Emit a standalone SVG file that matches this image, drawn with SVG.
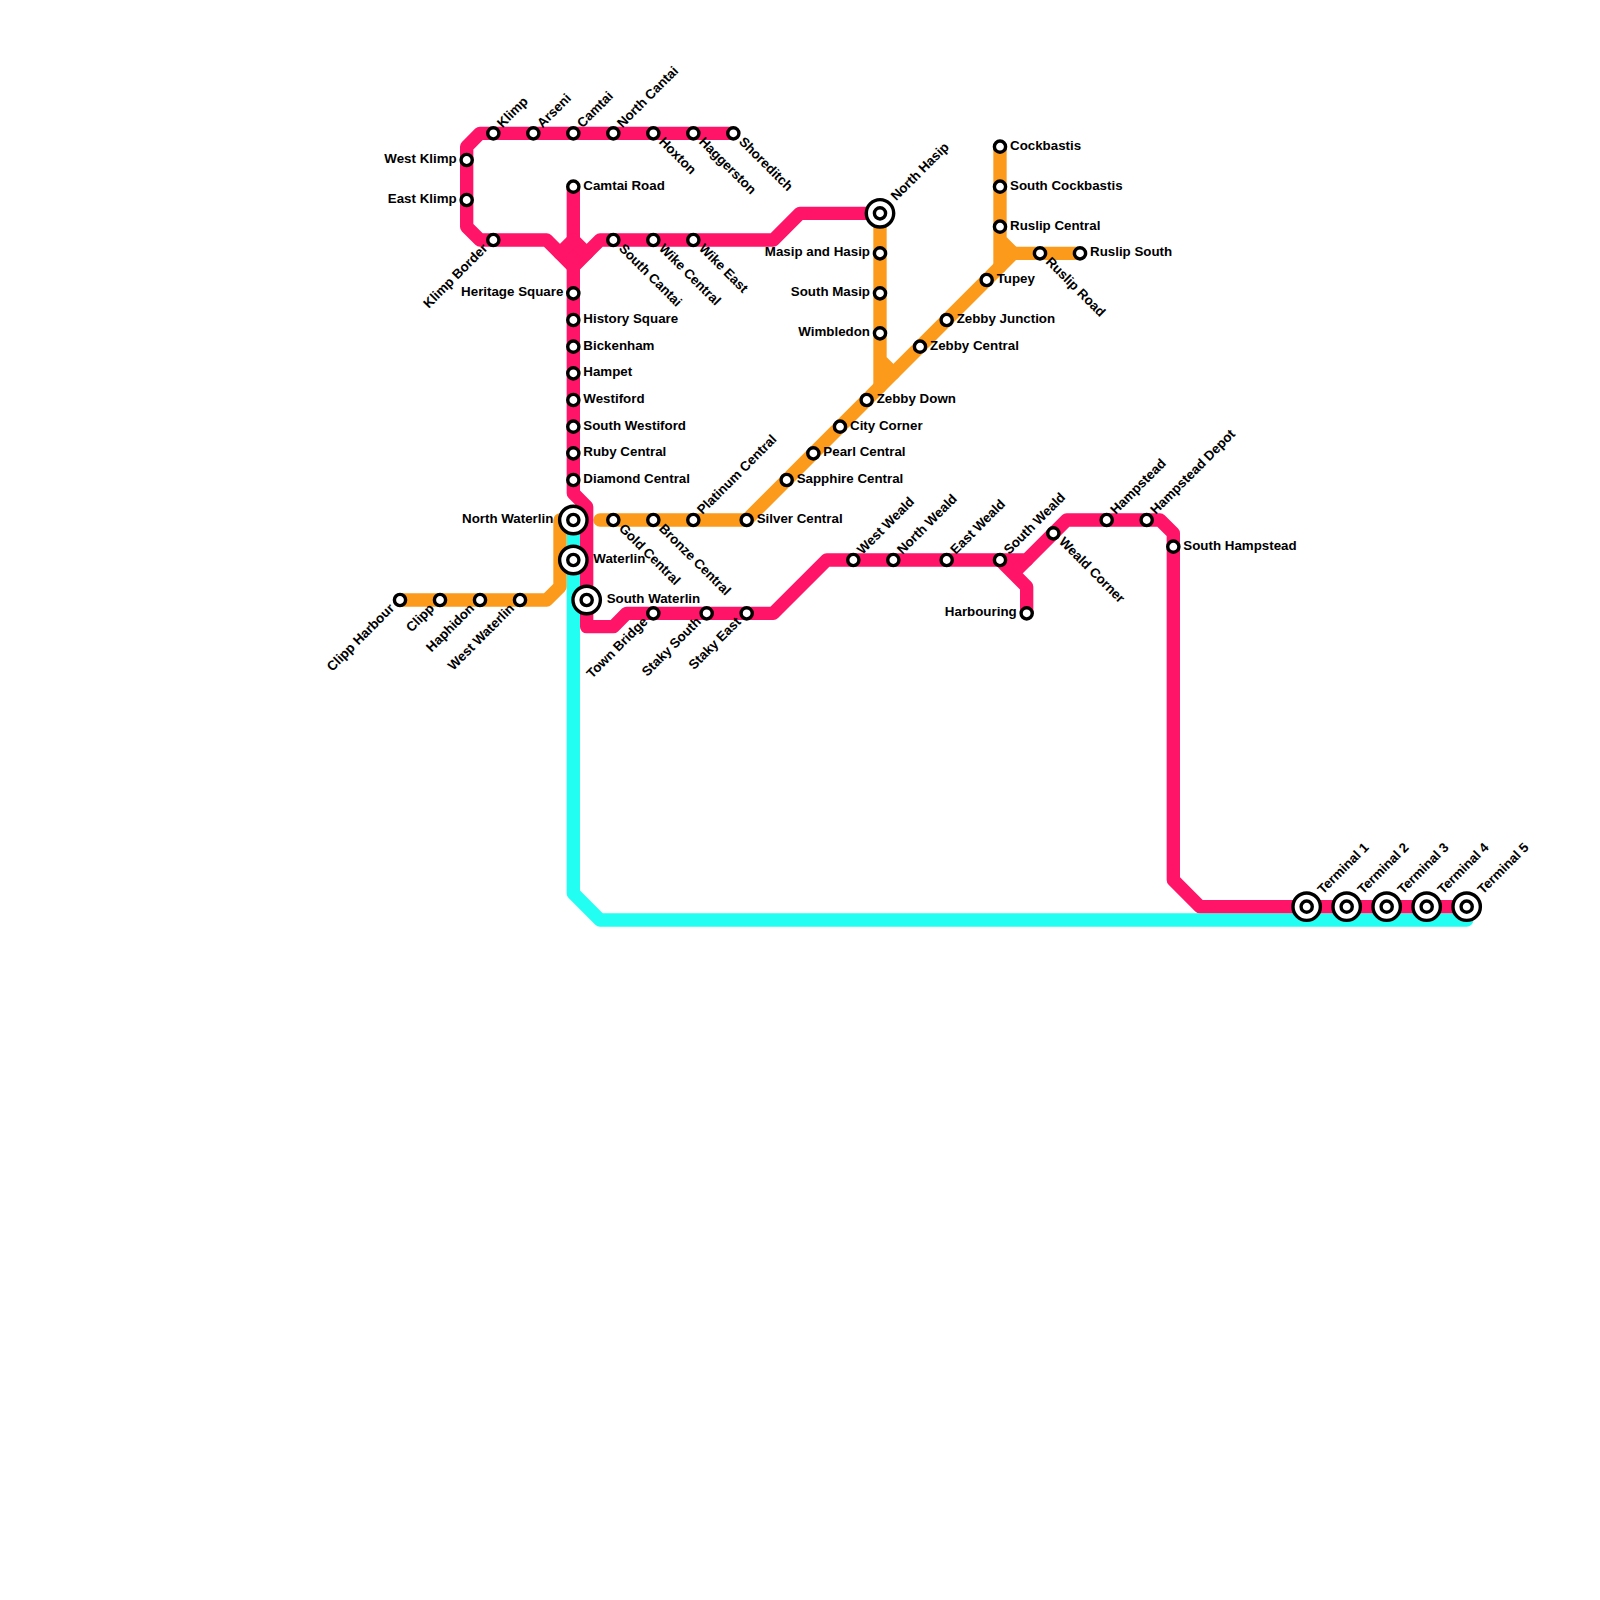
<svg xmlns="http://www.w3.org/2000/svg" width="1600" height="1600" viewBox="0 0 1600 1600">
<style>
.ln{fill:none;stroke-width:1;stroke-linecap:round;stroke-linejoin:round}
.pk{stroke:#ff1468}.or{stroke:#fc9a1b}.cy{stroke:#22fff2}
.st{fill:#fff;stroke:#000;stroke-width:3.4}
text{font-family:"Liberation Sans",Arial,sans-serif;font-size:13.33px;font-weight:bold;fill:#000}
.e{text-anchor:end}
</style>
<defs>
<g id="s"><circle class="st" r="5.6"/></g>
<g id="i"><circle class="st" r="13.7"/><circle class="st" r="5.6"/></g>
</defs>
<rect width="1600" height="1600" fill="#fff"/>
<g id="connectors" transform="scale(13.33333)">
<path class="ln cy" d="M43 39V67L45 69H110"/>
<path class="ln or" d="M30 45H41L42 44V39H43"/>
<path class="ln or" d="M45 39H56L76 19H81"/>
<path class="ln or" d="M66 16V29M66 27L67 28"/>
<path class="ln or" d="M75 11V20M75 18L76 19"/>
<path class="ln pk" d="M55 10H36L35 11V17L36 18H41L43 20L45 18H58L60 16H66"/>
<path class="ln pk" d="M43 14V37L44 38V47H46L47 46H58L62 42H77L80 39H87L88 40V66L90 68H110"/>
<path class="ln pk" d="M75 42L77 44V46M77 42L76 43M43 18L42 19M43 18L44 19"/>
</g>
<g id="stations">
<g id="west-klimp" transform="translate(466.67 160)"><use href="#s"/><text class="e" x="-10" y="3">West Klimp</text></g>
<g id="east-klimp" transform="translate(466.67 200)"><use href="#s"/><text class="e" x="-10" y="3">East Klimp</text></g>
<g id="klimp" transform="translate(493.33 133.33)"><use href="#s"/><text transform="rotate(-45) translate(10 3)">Klimp</text></g>
<g id="arseni" transform="translate(533.33 133.33)"><use href="#s"/><text transform="rotate(-45) translate(10 3)">Arseni</text></g>
<g id="camtai" transform="translate(573.33 133.33)"><use href="#s"/><text transform="rotate(-45) translate(10 3)">Camtai</text></g>
<g id="north-cantai" transform="translate(613.33 133.33)"><use href="#s"/><text transform="rotate(-45) translate(10 3)">North Cantai</text></g>
<g id="hoxton" transform="translate(653.33 133.33)"><use href="#s"/><text transform="rotate(45) translate(10 3)">Hoxton</text></g>
<g id="haggerston" transform="translate(693.33 133.33)"><use href="#s"/><text transform="rotate(45) translate(10 3)">Haggerston</text></g>
<g id="shoreditch" transform="translate(733.33 133.33)"><use href="#s"/><text transform="rotate(45) translate(10 3)">Shoreditch</text></g>
<g id="klimp-border" transform="translate(493.33 240)"><use href="#s"/><text class="e" transform="rotate(-45) translate(-10 3)">Klimp Border</text></g>
<g id="south-cantai" transform="translate(613.33 240)"><use href="#s"/><text transform="rotate(45) translate(10 3)">South Cantai</text></g>
<g id="wike-central" transform="translate(653.33 240)"><use href="#s"/><text transform="rotate(45) translate(10 3)">Wike Central</text></g>
<g id="wike-east" transform="translate(693.33 240)"><use href="#s"/><text transform="rotate(45) translate(10 3)">Wike East</text></g>
<g id="camtai-road" transform="translate(573.33 186.67)"><use href="#s"/><text x="10" y="3">Camtai Road</text></g>
<g id="heritage-square" transform="translate(573.33 293.33)"><use href="#s"/><text class="e" x="-10" y="3">Heritage Square</text></g>
<g id="history-square" transform="translate(573.33 320)"><use href="#s"/><text x="10" y="3">History Square</text></g>
<g id="bickenham" transform="translate(573.33 346.67)"><use href="#s"/><text x="10" y="3">Bickenham</text></g>
<g id="hampet" transform="translate(573.33 373.33)"><use href="#s"/><text x="10" y="3">Hampet</text></g>
<g id="westiford" transform="translate(573.33 400)"><use href="#s"/><text x="10" y="3">Westiford</text></g>
<g id="south-westiford" transform="translate(573.33 426.67)"><use href="#s"/><text x="10" y="3">South Westiford</text></g>
<g id="ruby-central" transform="translate(573.33 453.33)"><use href="#s"/><text x="10" y="3">Ruby Central</text></g>
<g id="diamond-central" transform="translate(573.33 480)"><use href="#s"/><text x="10" y="3">Diamond Central</text></g>
<g id="north-waterlin" transform="translate(573.33 520)"><use href="#i"/><text class="e" x="-20" y="3">North Waterlin</text></g>
<g id="waterlin" transform="translate(573.33 560)"><use href="#i"/><text x="20" y="3">Waterlin</text></g>
<g id="south-waterlin" transform="translate(586.67 600)"><use href="#i"/><text x="20" y="3">South Waterlin</text></g>
<g id="clipp-harbour" transform="translate(400 600)"><use href="#s"/><text class="e" transform="rotate(-45) translate(-10 3)">Clipp Harbour</text></g>
<g id="clipp" transform="translate(440 600)"><use href="#s"/><text class="e" transform="rotate(-45) translate(-10 3)">Clipp</text></g>
<g id="haphidon" transform="translate(480 600)"><use href="#s"/><text class="e" transform="rotate(-45) translate(-10 3)">Haphidon</text></g>
<g id="west-waterlin" transform="translate(520 600)"><use href="#s"/><text class="e" transform="rotate(-45) translate(-10 3)">West Waterlin</text></g>
<g id="gold-central" transform="translate(613.33 520)"><use href="#s"/><text transform="rotate(45) translate(10 3)">Gold Central</text></g>
<g id="bronze-central" transform="translate(653.33 520)"><use href="#s"/><text transform="rotate(45) translate(10 3)">Bronze Central</text></g>
<g id="platinum-central" transform="translate(693.33 520)"><use href="#s"/><text transform="rotate(-45) translate(10 3)">Platinum Central</text></g>
<g id="silver-central" transform="translate(746.67 520)"><use href="#s"/><text x="10" y="3">Silver Central</text></g>
<g id="town-bridge" transform="translate(653.33 613.33)"><use href="#s"/><text class="e" transform="rotate(-45) translate(-10 3)">Town Bridge</text></g>
<g id="staky-south" transform="translate(706.67 613.33)"><use href="#s"/><text class="e" transform="rotate(-45) translate(-10 3)">Staky South</text></g>
<g id="staky-east" transform="translate(746.67 613.33)"><use href="#s"/><text class="e" transform="rotate(-45) translate(-10 3)">Staky East</text></g>
<g id="sapphire-central" transform="translate(786.67 480)"><use href="#s"/><text x="10" y="3">Sapphire Central</text></g>
<g id="pearl-central" transform="translate(813.33 453.33)"><use href="#s"/><text x="10" y="3">Pearl Central</text></g>
<g id="city-corner" transform="translate(840 426.67)"><use href="#s"/><text x="10" y="3">City Corner</text></g>
<g id="zebby-down" transform="translate(866.67 400)"><use href="#s"/><text x="10" y="3">Zebby Down</text></g>
<g id="zebby-central" transform="translate(920 346.67)"><use href="#s"/><text x="10" y="3">Zebby Central</text></g>
<g id="zebby-junction" transform="translate(946.67 320)"><use href="#s"/><text x="10" y="3">Zebby Junction</text></g>
<g id="tupey" transform="translate(986.67 280)"><use href="#s"/><text x="10" y="3">Tupey</text></g>
<g id="north-hasip" transform="translate(880 213.33)"><use href="#i"/><text transform="rotate(-45) translate(20 3)">North Hasip</text></g>
<g id="masip-and-hasip" transform="translate(880 253.33)"><use href="#s"/><text class="e" x="-10" y="3">Masip and Hasip</text></g>
<g id="south-masip" transform="translate(880 293.33)"><use href="#s"/><text class="e" x="-10" y="3">South Masip</text></g>
<g id="wimbledon" transform="translate(880 333.33)"><use href="#s"/><text class="e" x="-10" y="3">Wimbledon</text></g>
<g id="cockbastis" transform="translate(1000 146.67)"><use href="#s"/><text x="10" y="3">Cockbastis</text></g>
<g id="south-cockbastis" transform="translate(1000 186.67)"><use href="#s"/><text x="10" y="3">South Cockbastis</text></g>
<g id="ruslip-central" transform="translate(1000 226.67)"><use href="#s"/><text x="10" y="3">Ruslip Central</text></g>
<g id="ruslip-road" transform="translate(1040 253.33)"><use href="#s"/><text transform="rotate(45) translate(10 3)">Ruslip Road</text></g>
<g id="ruslip-south" transform="translate(1080 253.33)"><use href="#s"/><text x="10" y="3">Ruslip South</text></g>
<g id="west-weald" transform="translate(853.33 560)"><use href="#s"/><text transform="rotate(-45) translate(10 3)">West Weald</text></g>
<g id="north-weald" transform="translate(893.33 560)"><use href="#s"/><text transform="rotate(-45) translate(10 3)">North Weald</text></g>
<g id="east-weald" transform="translate(946.67 560)"><use href="#s"/><text transform="rotate(-45) translate(10 3)">East Weald</text></g>
<g id="south-weald" transform="translate(1000 560)"><use href="#s"/><text transform="rotate(-45) translate(10 3)">South Weald</text></g>
<g id="harbouring" transform="translate(1026.67 613.33)"><use href="#s"/><text class="e" x="-10" y="3">Harbouring</text></g>
<g id="weald-corner" transform="translate(1053.33 533.33)"><use href="#s"/><text transform="rotate(45) translate(10 3)">Weald Corner</text></g>
<g id="hampstead" transform="translate(1106.67 520)"><use href="#s"/><text transform="rotate(-45) translate(10 3)">Hampstead</text></g>
<g id="hampstead-depot" transform="translate(1146.67 520)"><use href="#s"/><text transform="rotate(-45) translate(10 3)">Hampstead Depot</text></g>
<g id="south-hampstead" transform="translate(1173.33 546.67)"><use href="#s"/><text x="10" y="3">South Hampstead</text></g>
<g id="terminal-1" transform="translate(1306.67 906.67)"><use href="#i"/><text transform="rotate(-45) translate(20 3)">Terminal 1</text></g>
<g id="terminal-2" transform="translate(1346.67 906.67)"><use href="#i"/><text transform="rotate(-45) translate(20 3)">Terminal 2</text></g>
<g id="terminal-3" transform="translate(1386.67 906.67)"><use href="#i"/><text transform="rotate(-45) translate(20 3)">Terminal 3</text></g>
<g id="terminal-4" transform="translate(1426.67 906.67)"><use href="#i"/><text transform="rotate(-45) translate(20 3)">Terminal 4</text></g>
<g id="terminal-5" transform="translate(1466.67 906.67)"><use href="#i"/><text transform="rotate(-45) translate(20 3)">Terminal 5</text></g>
</g>
</svg>
